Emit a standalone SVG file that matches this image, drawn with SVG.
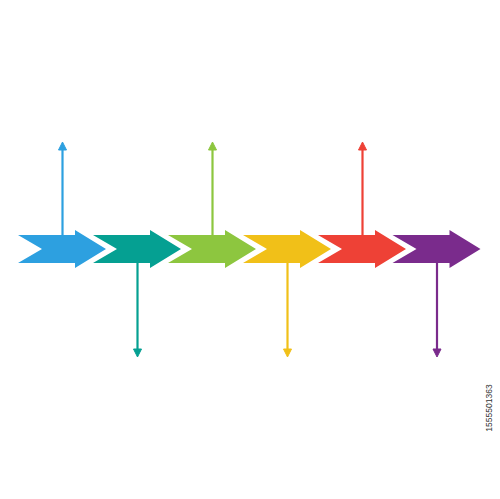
<svg xmlns="http://www.w3.org/2000/svg" width="500" height="499" viewBox="0 0 500 499">
<defs>
<style>
.ln{stroke-width:2.2;fill:none}
.id{font-family:"Liberation Sans",Arial,sans-serif;font-size:8.5px;fill:#333}
</style>
<polygon id="chev" points="0,235 57,235 57,230 88,249 57,268 57,263 0,263 24,249"/>
</defs>
<rect width="500" height="499" fill="#fff"/>
<g id="connectors">
<g stroke="#2da0e0" fill="#2da0e0"><line class="ln" x1="62.5" y1="235" x2="62.5" y2="148"/><polygon points="62.5,142 66.5,150 58.5,150"/></g>
<g stroke="#05a092" fill="#05a092"><line class="ln" x1="137.5" y1="263" x2="137.5" y2="351"/><polygon points="137.5,357 141.5,349 133.5,349"/></g>
<g stroke="#8dc63f" fill="#8dc63f"><line class="ln" x1="212.5" y1="235" x2="212.5" y2="148"/><polygon points="212.5,142 216.5,150 208.5,150"/></g>
<g stroke="#f1c018" fill="#f1c018"><line class="ln" x1="287.5" y1="263" x2="287.5" y2="351"/><polygon points="287.5,357 291.5,349 283.5,349"/></g>
<g stroke="#ee4136" fill="#ee4136"><line class="ln" x1="362.5" y1="235" x2="362.5" y2="148"/><polygon points="362.5,142 366.5,150 358.5,150"/></g>
<g stroke="#7a2b8c" fill="#7a2b8c"><line class="ln" x1="437" y1="263" x2="437" y2="351"/><polygon points="437,357 441,349 433,349"/></g>
</g>
<g id="arrow1"><use href="#chev" x="18" fill="#2da0e0"/></g>
<g id="arrow2"><use href="#chev" x="93" fill="#05a092"/></g>
<g id="arrow3"><use href="#chev" x="168" fill="#8dc63f"/></g>
<g id="arrow4"><use href="#chev" x="243" fill="#f1c018"/></g>
<g id="arrow5"><use href="#chev" x="318" fill="#ee4136"/></g>
<g id="arrow6"><use href="#chev" x="392.5" fill="#7a2b8c"/></g>
<text class="id" transform="translate(492,408) rotate(-90)" text-anchor="middle">1555501363</text>
</svg>
